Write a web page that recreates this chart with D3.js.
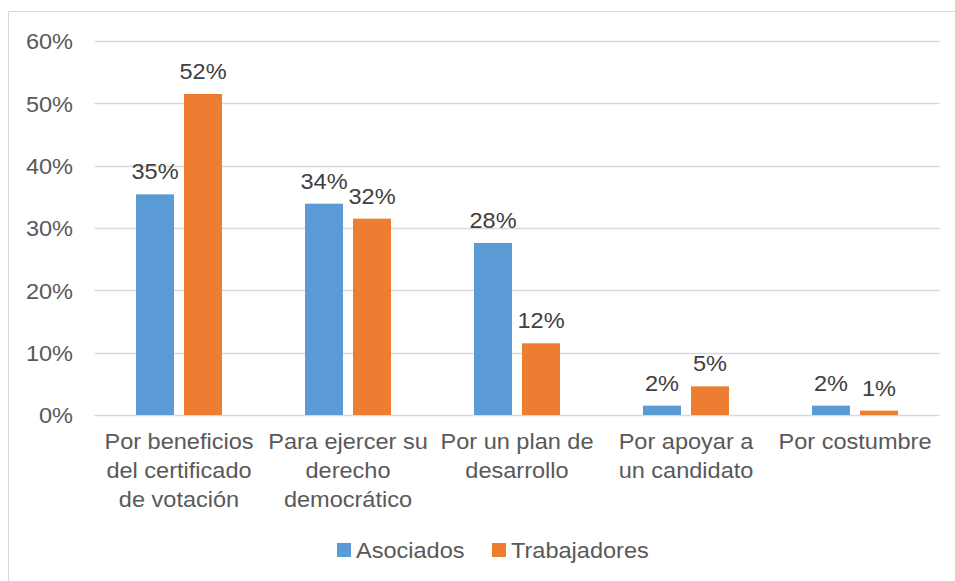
<!DOCTYPE html>
<html>
<head>
<meta charset="utf-8">
<script src="https://cdn.jsdelivr.net/npm/d3@7"></script>
<style>
  html, body { margin: 0; padding: 0; background: #fff; }
  svg { display: block; font-family: "Liberation Sans", Arial, sans-serif; }
</style>
</head>
<body>
<svg id="chart" width="955" height="581"></svg>
<script>
const categories = [
  "Por beneficios del certificado de votación",
  "Para ejercer su derecho democrático",
  "Por un plan de desarrollo",
  "Por apoyar a un candidato",
  "Por costumbre"
];
const categoryLines = [
  ["Por beneficios", "del certificado", "de votación"],
  ["Para ejercer su", "derecho", "democrático"],
  ["Por un plan de", "desarrollo"],
  ["Por apoyar a", "un candidato"],
  ["Por costumbre"]
];
const seriesNames = ["Asociados", "Trabajadores"];
const asociados = [35.4, 33.9, 27.6, 1.5, 1.5];
const trabajadores = [51.5, 31.5, 11.5, 4.6, 0.7];
const dataLabels = [
  ["35%", "34%", "28%", "2%", "2%"],
  ["52%", "32%", "12%", "5%", "1%"]
];
const yTicks = [0, 10, 20, 30, 40, 50, 60];
const colors = ["#5B9BD5", "#ED7D31"];

const FS = 22;      // font size
const SX = 1.07;    // slight horizontal stretch seen in the reference

const svg = d3.select("#chart");
const W = 955, H = 581;
const plot = { left: 94.5, right: 939.5, top: 41, bottom: 415 };

function stretchedText(parent, x, y, anchor) {
  return parent.append("text")
    .attr("transform", `translate(${x},${y}) scale(${SX},1)`)
    .attr("text-anchor", anchor)
    .attr("font-size", FS);
}

// chart frame (top and left edges visible)
svg.append("line").attr("x1", 8.5).attr("x2", W).attr("y1", 11.5).attr("y2", 11.5)
  .attr("stroke", "#D9D9D9").attr("stroke-width", 1);
svg.append("line").attr("x1", 8.5).attr("x2", 8.5).attr("y1", 11.5).attr("y2", H)
  .attr("stroke", "#D9D9D9").attr("stroke-width", 1);

const y = d3.scaleLinear().domain([0, 60]).range([plot.bottom, plot.top]);
const x0 = d3.scaleBand().domain(categories).range([plot.left, plot.right]).padding(0);
const x1 = d3.scaleBand().domain(seriesNames).range([0, 86]).paddingInner(10 / 48).paddingOuter(0);
const groupOffset = (x0.bandwidth() - 86) / 2;

// gridlines
svg.append("g").selectAll("line").data(yTicks).join("line")
  .attr("x1", plot.left).attr("x2", plot.right)
  .attr("y1", d => Math.round(y(d)) + 0.5).attr("y2", d => Math.round(y(d)) + 0.5)
  .attr("stroke", "#D9D9D9").attr("stroke-width", 1.5);

// y axis labels
const yAxis = d3.axisLeft(y).tickValues(yTicks).tickFormat(d => d + "%").tickSize(0).tickPadding(0);
const gy = svg.append("g").attr("transform", "translate(73,0)").call(yAxis);
gy.select(".domain").remove();
gy.selectAll("text").attr("font-size", FS).attr("fill", "#595959")
  .attr("font-family", "Liberation Sans, Arial, sans-serif").attr("dy", "0.35em")
  .attr("transform", `scale(${SX},1)`);

// bars
const seriesData = [asociados, trabajadores];
const groups = svg.append("g").selectAll("g").data(categories).join("g")
  .attr("transform", c => `translate(${x0(c) + groupOffset},0)`);

const cells = (c, i) => seriesNames.map((s, j) => ({ s, v: seriesData[j][i], j, i }));

groups.selectAll("rect").data(cells).join("rect")
  .attr("x", d => x1(d.s))
  .attr("width", x1.bandwidth())
  .attr("y", d => y(d.v))
  .attr("height", d => y(0) - y(d.v))
  .attr("fill", d => colors[d.j]);

groups.selectAll("text.lbl").data(cells).join("text").attr("class", "lbl")
  .attr("transform", d => `translate(${x1(d.s) + x1.bandwidth() / 2},${y(d.v) - 15}) scale(${SX},1)`)
  .attr("text-anchor", "middle")
  .attr("font-size", FS)
  .attr("fill", "#404040")
  .text(d => dataLabels[d.j][d.i]);

// category labels
const xAxis = svg.append("g");
categories.forEach((c, i) => {
  const cx = x0(c) + x0.bandwidth() / 2;
  const t = stretchedText(xAxis, cx, 449, "middle").attr("fill", "#595959");
  categoryLines[i].forEach((line, k) => {
    t.append("tspan").attr("x", 0).attr("dy", k === 0 ? 0 : 29).text(line);
  });
});

// legend
const legendItems = [{ name: seriesNames[0], x: 337 }, { name: seriesNames[1], x: 492 }];
const lg = svg.append("g");
legendItems.forEach((d, i) => {
  lg.append("rect").attr("x", d.x).attr("y", 543).attr("width", 14).attr("height", 14).attr("fill", colors[i]);
  stretchedText(lg, d.x + 19, 558, "start").attr("fill", "#595959").text(d.name);
});
</script>
</body>
</html>
